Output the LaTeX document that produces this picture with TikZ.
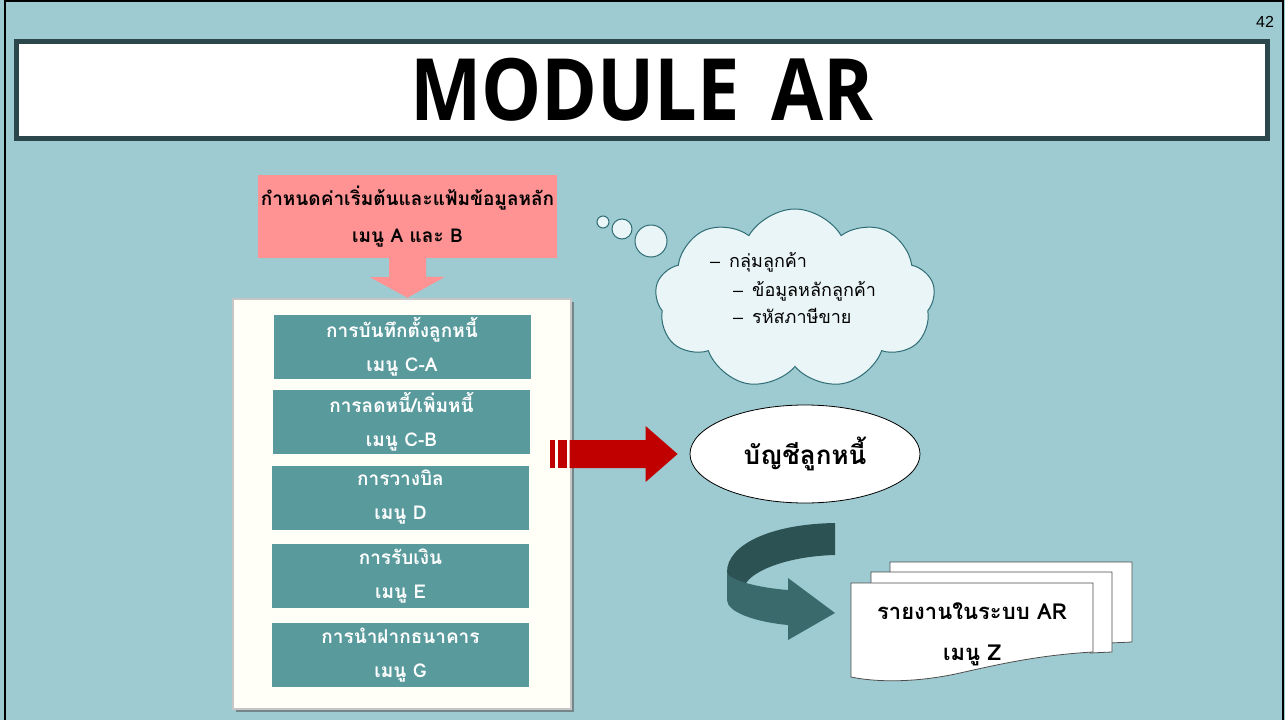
\documentclass[tikz,border=0pt]{standalone}
\usepackage{fontspec}
\setmainfont{Liberation Sans}
\newfontfamily\thaifont[Script=Thai]{Loma}
\newfontfamily\titlefont{Open Sans}
\usetikzlibrary{positioning,shapes.geometric,shapes.symbols,calc,shadows}

\definecolor{bgteal}{HTML}{9ECBD1}
\definecolor{barteal}{HTML}{2B474C}
\definecolor{menuteal}{HTML}{599A9D}
\definecolor{hdrpink}{HTML}{FF9393}
\definecolor{creamfill}{HTML}{FFFFF7}
\definecolor{arrowred}{HTML}{C00000}
\definecolor{cloudfill}{HTML}{EAF5F7}
\definecolor{cloudline}{HTML}{2E6D75}
\definecolor{turndark}{HTML}{2D5254}
\definecolor{turnlight}{HTML}{3A6A6C}

\begin{document}
\begin{tikzpicture}[
    x=1pt, y=-1pt,
    every node/.style={inner sep=0pt},
    titlebar/.style={draw=barteal,line width=5pt,fill=white,minimum width=1251pt,minimum height=97pt},
    hdr/.style={fill=hdrpink,minimum width=299pt,minimum height=83pt,align=center,
                font=\thaifont\bfseries\fontsize{19}{37}\selectfont},
    panel/.style={draw=gray!45,line width=2.5pt,fill=creamfill,minimum width=338pt,minimum height=410pt,
                  drop shadow={shadow xshift=3pt,shadow yshift=-3pt,fill=gray!70!black,opacity=0.6}},
    menu/.style={fill=menuteal,minimum width=257pt,minimum height=64pt,text=white,align=center,
                 font=\thaifont\bfseries\fontsize{19}{34}\selectfont},
    acctoval/.style={draw,ellipse,fill=white,line width=0.8pt,minimum width=230pt,minimum height=98pt,
                     font=\thaifont\bfseries\fontsize{26}{30}\selectfont},
    thought/.style={draw=cloudline,fill=cloudfill,line width=1pt},
    item/.style={anchor=base west,font=\thaifont\fontsize{18}{22}\selectfont},
    sheet/.style={draw=gray!60!black,fill=white,line width=0.8pt},
    rpt/.style={align=center,font=\thaifont\bfseries\fontsize{22}{41}\selectfont}
]
\useasboundingbox (0,0) rectangle (1285,720);
\fill[bgteal] (0,0) rectangle (1285,720);
\draw[line width=2pt] (5,1) rectangle (1283,721);

% slide number
\node[font=\fontsize{16}{16}\selectfont] (pgno) at (1265,22) {42};

% title bar
\node[titlebar] (title) at (642,90)
    {\titlefont\bfseries\fontsize{86}{86}\selectfont\scalebox{0.88}[1]{MODULE\hspace{36pt}AR}};

% setup header and its arrow
\node[hdr] (hdr) at (407.5,216.5) {กำหนดค่าเริ่มต้นและแฟ้มข้อมูลหลัก\\เมนู A และ B};

% menu panel
\node[panel] (panel) at (402,504) {};
\fill[hdrpink] (hdr.south) ++(-18.5,0) -- ++(0,19) -- ++(-19,0) -- (hdr.south |- panel.north)
    -- ++(37.5,-21) -- ++(-19,0) -- ++(0,-19) -- cycle;

\node[menu] (mA) at (402,347)   {การบันทึกตั้งลูกหนี้\\เมนู C-A};
\node[menu] (mB) at (401.5,421.5) {การลดหนี้/เพิ่มหนี้\\เมนู C-B};
\node[menu] (mD) at (400.5,497.5) {การวางบิล\\เมนู D};
\node[menu] (mE) at (400.5,576) {การรับเงิน\\เมนู E};
\node[menu] (mG) at (400.5,655) {การนำฝากธนาคาร\\เมนู G};

% debtor account
\node[acctoval] (acct) at (805,454) {บัญชีลูกหนี้};
\coordinate (tip) at ($(acct.west)+(-12,0)$);
\fill[arrowred] (tip) -- ++(-32,-28) -- ++(0,14) -- ++(-76,0) -- ++(0,28) -- ++(76,0)
    -- ++(0,14) -- cycle;
\fill[arrowred] (tip) ++(-128,-14) rectangle ++(5,28);
\fill[arrowred] (tip) ++(-120,-14) rectangle ++(9,28);

% thought cloud
\node[thought,cloud,cloud puffs=9,cloud puff arc=120,aspect=1.5,
      minimum width=280pt,minimum height=180pt] (cloud) at (795,299) {};
\node[thought,circle,minimum size=12pt] (bub1) at (603,222) {};
\node[thought,circle,minimum size=20pt] (bub2) at (622,229) {};
\node[thought,circle,minimum size=32pt] (bub3) at (651,241) {};
\node[item] (c1) at (710,267) {{\rmfamily –}\hspace{9pt}กลุ่มลูกค้า};
\node[item] (c2) at (733,296) {{\rmfamily –}\hspace{9pt}ข้อมูลหลักลูกค้า};
\node[item] (c3) at (733,323) {{\rmfamily –}\hspace{9pt}รหัสภาษีขาย};

% U-turn arrow
\fill[turndark] (835,523) .. controls (770,524) and (727,545) .. (727,572)
    .. controls (727,578) and (735,582) .. (745,585)
    .. controls (752,570) and (790,556) .. (835,555) -- cycle;
\fill[turnlight] (727,572) -- (727,600) .. controls (727,612) and (755,622) .. (788,625)
    -- (788,640) -- (835,613) -- (788,578) -- (788,590)
    .. controls (760,588) and (727,580) .. (727,572) -- cycle;

% report stack
\draw[sheet] (890,562) -- (1132,562) -- (1132,642) -- (1110,643) -- (1110,600) -- (890,600) -- cycle;
\draw[sheet] (871,572) -- (1112,572) -- (1112,652) -- (1090,653) -- (1090,600) -- (871,600) -- cycle;
\draw[sheet] (851,583) -- (1093,583) -- (1093,652)
    .. controls (1040,655) and (1000,664) .. (960,673)
    .. controls (920,682) and (880,683) .. (851,677) -- cycle;
\node[rpt] (rpt) at (972,634) {รายงานในระบบ AR\\เมนู Z};

\end{tikzpicture}
\end{document}
